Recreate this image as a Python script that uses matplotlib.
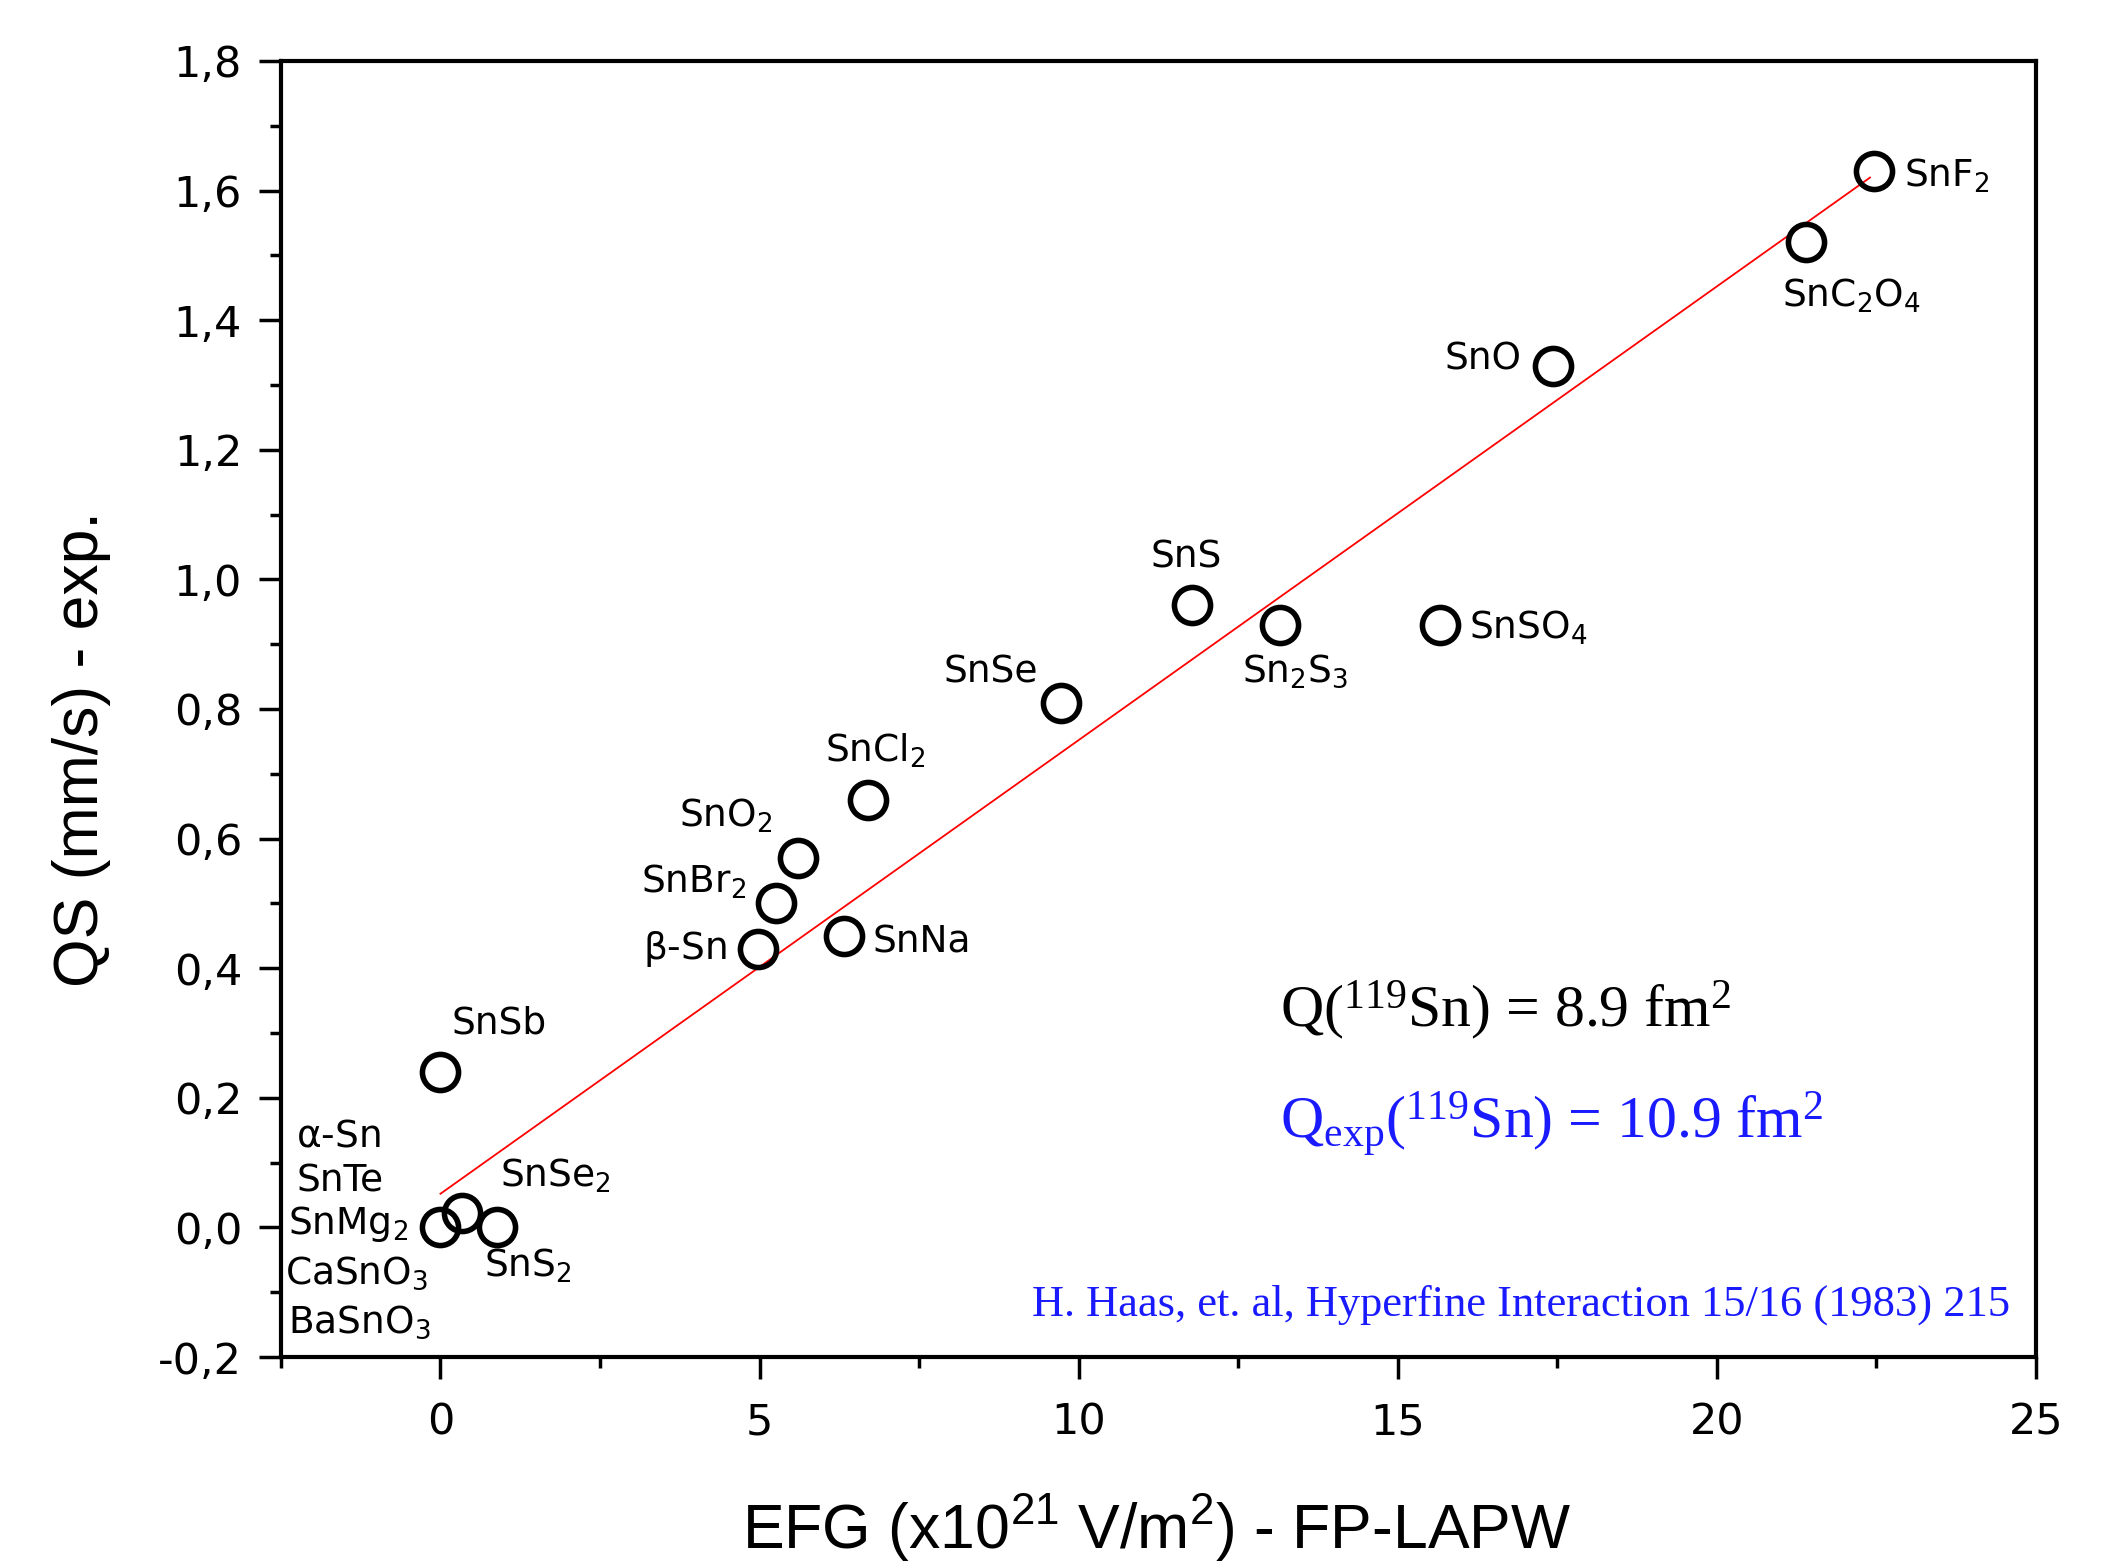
import matplotlib
matplotlib.use("Agg")
import matplotlib.pyplot as plt
from matplotlib.ticker import MultipleLocator, FuncFormatter

plt.rcParams['font.family'] = ['Liberation Sans', 'DejaVu Sans']
plt.rcParams['mathtext.default'] = 'regular'

# EFG (x10^21 V/m^2) vs experimental QS (mm/s)
efg = [22.46, 21.4, 17.43, 11.78, 13.16, 15.67, 9.73, 6.70, 5.60, 5.25, 4.97, 6.32, 0.0, 0.0, 0.34, 0.89]
qs = [1.63, 1.52, 1.33, 0.96, 0.93, 0.93, 0.81, 0.66, 0.57, 0.50, 0.43, 0.45, 0.24, 0.0, 0.023, 0.0]

# linear fit line (from picture)
fit_x = [0.0, 22.4]
fit_slope = 0.0700
fit_icpt = 0.052

# labels and their text positions (data coords)
labels = [r'SnF$_2$', r'SnC$_2$O$_4$', 'SnO', 'SnS', r'Sn$_2$S$_3$', r'SnSO$_4$', 'SnSe',
          r'SnCl$_2$', r'SnO$_2$', r'SnBr$_2$', r'$\beta$-Sn', 'SnNa', 'SnSb',
          r'$\alpha$-Sn', 'SnTe', r'SnMg$_2$', r'CaSnO$_3$', r'BaSnO$_3$', r'SnSe$_2$', r'SnS$_2$']
lab_x = [22.93, 21.02, 15.74, 11.13, 12.56, 16.12, 7.89, 6.03, 3.74, 3.15, 3.17, 6.77, 0.17,
         -2.26, -2.26, -2.39, -2.43, -2.39, 0.93, 0.68]
lab_y = [1.623, 1.4375, 1.34, 1.033, 0.858, 0.925, 0.856, 0.735, 0.635, 0.533, 0.429, 0.44, 0.315,
         0.14, 0.071, 0.006, -0.071, -0.146, 0.079, -0.06]

fig = plt.figure(figsize=(21.17, 15.62), dpi=100)
ax = fig.add_axes([0.1327, 0.1312, 0.8290, 0.8298])

# red fit line
fit_y = [fit_icpt + fit_slope * v for v in fit_x]
ax.plot(fit_x, fit_y, color='red', lw=1.3, zorder=2)

# data points as open circles
ax.plot(efg, qs, 'o', ms=26, mfc='none', mec='black', mew=4, zorder=3)

for t, x, y in zip(labels, lab_x, lab_y):
    ax.text(x, y, t, fontsize=27, family='DejaVu Sans', va='center', ha='left', color='black')

ax.text(13.16, 0.335, r'Q($^{119}$Sn) = 8.9 fm$^2$', fontsize=43,
        family='Liberation Serif', va='center', ha='left', color='black')
ax.text(13.16, 0.16, r'Q$_{exp}$($^{119}$Sn) = 10.9 fm$^2$', fontsize=43,
        family='Liberation Serif', va='center', ha='left', color='#1a1aff')
ax.text(24.6, -0.12, 'H. Haas, et. al, Hyperfine Interaction 15/16 (1983) 215', fontsize=32,
        family='Liberation Serif', va='center', ha='right', color='#1a1aff')

ax.set_xlim(-2.5, 25)
ax.set_ylim(-0.2, 1.8)

ax.xaxis.set_major_locator(MultipleLocator(5))
ax.xaxis.set_minor_locator(MultipleLocator(2.5))
ax.yaxis.set_major_locator(MultipleLocator(0.2))
ax.yaxis.set_minor_locator(MultipleLocator(0.1))
ax.yaxis.set_major_formatter(FuncFormatter(lambda v, p: ('%.1f' % v).replace('.', ',').replace('-0,0', '0,0')))
ax.xaxis.set_major_formatter(FuncFormatter(lambda v, p: '%d' % v))

ax.tick_params(which='major', direction='out', length=16, width=2.5, labelsize=31)
ax.tick_params(axis='x', which='major', pad=16)
ax.tick_params(axis='y', which='major', pad=12)
ax.tick_params(which='minor', direction='out', length=8, width=2.5)
ax.tick_params(top=False, right=False)
for lab in ax.get_xticklabels() + ax.get_yticklabels():
    lab.set_family('DejaVu Sans')
for s in ax.spines.values():
    s.set_linewidth(3)

ax.set_xlabel(r'EFG (x10$^{21}$ V/m$^2$) - FP-LAPW', fontsize=45)
ax.set_ylabel('QS (mm/s) - exp.', fontsize=45)
ax.xaxis.set_label_coords(0.499, -0.105)
ax.yaxis.set_label_coords(-0.097, 0.469)

fig.savefig('out.png', dpi=100)
